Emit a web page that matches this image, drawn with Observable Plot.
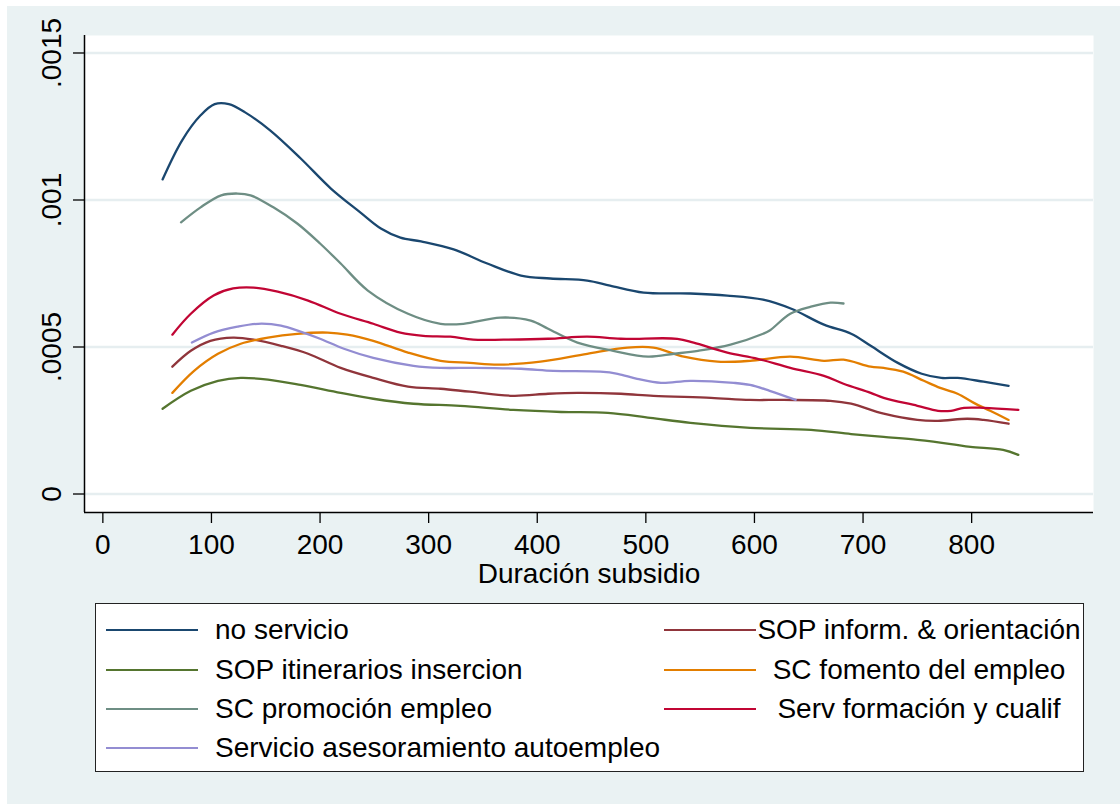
<!DOCTYPE html>
<html>
<head>
<meta charset="utf-8">
<script src="https://cdn.jsdelivr.net/npm/d3@7"></script>
<script src="https://cdn.jsdelivr.net/npm/@observablehq/plot@0.6"></script>
<style>
  html, body { margin: 0; padding: 0; background: #ffffff; }
  #bg { position: absolute; left: 7px; top: 6px; width: 1113px; height: 798px; background: #EAF2F3; }
  #chart { position: absolute; left: 0; top: 0; }
  #legend { position: absolute; left: 95px; top: 603px; width: 989px; height: 169px; box-sizing: border-box;
            background: #fff; border: 1.6px solid #222; }
  .lab { position: absolute; font-family: "Liberation Sans", Arial, sans-serif; font-size: 28px; color: #000; white-space: nowrap; line-height: 1; }
  .sw { position: absolute; height: 2.5px; width: 92px; }
</style>
</head>
<body>
<div id="bg"></div>
<div id="chart"></div>
<div id="legend"></div>
<script>
// ---- data (x = Duración subsidio, y = density) ----
const seriesNames = [
  "no servicio",
  "SOP inform. & orientación",
  "SOP itinerarios insercion",
  "SC fomento del empleo",
  "SC promoción empleo",
  "Serv formación y cualif",
  "Servicio asesoramiento autoempleo"
];
const seriesColors = ["#1a476f", "#90353b", "#55752f", "#e37e00", "#6e8e84", "#c10534", "#938dd2"];

const noServicio = [[55,0.00107],[73,0.001203],[90,0.001288],[103,0.001326],[116,0.001326],[131,0.001298],[154,0.001237],[182,0.001142],[210,0.001039],[237,0.000958],[256,0.000903],[274,0.000872],[293,0.000859],[323,0.000832],[354,0.000784],[385,0.000743],[412,0.000733],[446,0.000726],[467,0.000709],[498,0.000685],[541,0.000682],[575,0.000675],[608,0.000661],[634,0.00063],[664,0.000576],[689,0.000545],[707,0.000504],[732,0.000446],[754,0.000409],[772,0.000395],[787,0.000395],[811,0.000382],[834,0.000368]];
const sopInform = [[64,0.000433],[81,0.000487],[99,0.000521],[120,0.000532],[139,0.000525],[164,0.000504],[189,0.000477],[219,0.000429],[249,0.000395],[281,0.000365],[311,0.000358],[338,0.000348],[378,0.000334],[410,0.000341],[437,0.000344],[477,0.000341],[507,0.000334],[560,0.000327],[596,0.00032],[627,0.00032],[670,0.000317],[689,0.000307],[719,0.000273],[750,0.000252],[769,0.000249],[796,0.000256],[811,0.000252],[834,0.000239]];
const sopItinerarios = [[55,0.00029],[81,0.000351],[106,0.000385],[127,0.000395],[152,0.000389],[182,0.000371],[219,0.000344],[249,0.000324],[286,0.000307],[329,0.0003],[378,0.000286],[422,0.000279],[465,0.000276],[504,0.000259],[541,0.000242],[596,0.000225],[652,0.000218],[689,0.000204],[719,0.000194],[750,0.000184],[781,0.00017],[799,0.00016],[829,0.00015],[843,0.000133]];
const scFomento = [[64,0.000344],[84,0.000419],[106,0.000477],[127,0.000511],[152,0.000532],[179,0.000545],[207,0.000549],[225,0.000542],[249,0.000521],[281,0.000481],[311,0.000453],[338,0.000446],[364,0.00044],[403,0.00045],[446,0.000477],[483,0.000498],[507,0.000498],[535,0.000467],[566,0.00045],[596,0.000453],[633,0.000467],[664,0.000453],[682,0.000457],[707,0.000433],[719,0.000429],[737,0.000416],[756,0.000385],[771,0.000361],[787,0.000341],[802,0.00031],[817,0.000283],[834,0.000252]];
const scPromocion = [[72,0.000924],[90,0.000975],[109,0.001016],[124,0.001022],[136,0.001016],[157,0.000975],[179,0.00092],[200,0.000852],[219,0.000784],[244,0.000692],[281,0.000613],[311,0.000579],[332,0.000579],[366,0.0006],[394,0.00059],[410,0.000562],[437,0.000515],[470,0.000487],[502,0.000467],[526,0.000477],[548,0.000487],[578,0.000508],[608,0.000545],[614,0.000556],[633,0.000613],[652,0.000637],[670,0.000651],[682,0.000648]];
const servFormacion = [[64,0.000542],[81,0.000613],[102,0.000675],[120,0.000699],[139,0.000702],[161,0.000688],[189,0.000658],[219,0.000613],[249,0.000579],[274,0.000549],[295,0.000538],[320,0.000535],[341,0.000525],[369,0.000525],[410,0.000528],[446,0.000535],[477,0.000528],[529,0.000528],[544,0.000515],[575,0.000481],[603,0.00046],[633,0.000429],[664,0.000402],[682,0.000375],[707,0.000344],[719,0.000327],[750,0.0003],[769,0.000283],[781,0.000283],[793,0.000293],[811,0.000293],[843,0.000286]];
const servAsesoramiento = [[82,0.000515],[102,0.000549],[124,0.000569],[143,0.000579],[164,0.000573],[182,0.000552],[200,0.000528],[222,0.000494],[249,0.000463],[286,0.000436],[311,0.000429],[341,0.000429],[385,0.000426],[415,0.000419],[458,0.000416],[474,0.000409],[492,0.000392],[514,0.000378],[541,0.000385],[581,0.000378],[596,0.000371],[614,0.000351],[638,0.00032]];

const seriesData = [noServicio, sopInform, sopItinerarios, scFomento, scPromocion, servFormacion, servAsesoramiento];

const xTicks = [0, 100, 200, 300, 400, 500, 600, 700, 800];
const yTicks = [0, 0.0005, 0.001, 0.0015];
const yTickLabels = ["0", ".0005", ".001", ".0015"];
const xTitle = "Duración subsidio";

// legend layout (row-major, two columns)
const legendOrder = [0, 1, 2, 3, 4, 5, 6];

// ---- build table ----
const rows = [];
seriesData.forEach((arr, i) => arr.forEach(([x, y]) => rows.push({series: seriesNames[i], x, y})));

const xDomain = [-16.9, 912.2];
const yDomain = [-0.0000629, 0.0015595];
const font = "'Liberation Sans', Arial, sans-serif";

const chart = Plot.plot({
  width: 1120,
  height: 600,
  marginLeft: 84,
  marginRight: 27,
  marginTop: 35,
  marginBottom: 88,
  style: {background: "transparent", fontFamily: font, fontSize: "28px", color: "#000"},
  x: {domain: xDomain},
  y: {domain: yDomain},
  color: {domain: seriesNames, range: seriesColors},
  marks: [
    Plot.frame({fill: "#ffffff", stroke: null}),
    Plot.ruleY(yTicks, {stroke: "#E6EEF0", strokeWidth: 2.5}),
    Plot.line(rows, {x: "x", y: "y", z: "series", stroke: "series", curve: "catmull-rom", strokeWidth: 2.3}),
    Plot.ruleX([xDomain[0]], {stroke: "#000", strokeWidth: 1.5}),
    Plot.ruleY([yDomain[0]], {stroke: "#000", strokeWidth: 1.5}),
    Plot.axisX({ticks: xTicks, tickSize: 11, tickPadding: 11, fontSize: 28, label: null, tickFormat: d => String(d), stroke: "#000", strokeWidth: 1.3}),
    Plot.axisY({ticks: yTicks, tickSize: 11, tickFormat: () => "", label: null, stroke: "#000", strokeWidth: 1.3}),
    Plot.text(yTicks, {y: d => d, text: (d, i) => yTickLabels[i], frameAnchor: "left", dx: -32.5, rotate: -90, textAnchor: "middle", lineAnchor: "middle", fontSize: 28, fill: "#000"}),
    Plot.text([xTitle], {text: d => d, frameAnchor: "bottom", dy: 62, lineAnchor: "middle", textAnchor: "middle", fontSize: 28, fill: "#000"})
  ]
});
document.getElementById("chart").appendChild(chart);

// ---- legend ----
const legend = document.getElementById("legend");
const rowY = [26, 66, 105, 144];   // centre of each row, relative to box top
const swLeft = [10, 568];
const textLeftX = 119;
const textRightCenter = 823;
legendOrder.forEach((si, k) => {
  const col = k % 2, row = Math.floor(k / 2);
  const sw = document.createElement("div");
  sw.className = "sw";
  sw.style.left = swLeft[col] + "px";
  sw.style.top = (rowY[row] - 1.25) + "px";
  sw.style.background = seriesColors[si];
  legend.appendChild(sw);
  const t = document.createElement("div");
  t.className = "lab";
  t.textContent = seriesNames[si];
  t.style.top = (rowY[row] - 14) + "px";
  if (col === 0) {
    t.style.left = textLeftX + "px";
  } else {
    t.style.left = textRightCenter + "px";
    t.style.transform = "translateX(-50%)";
  }
  legend.appendChild(t);
});
</script>
</body>
</html>
